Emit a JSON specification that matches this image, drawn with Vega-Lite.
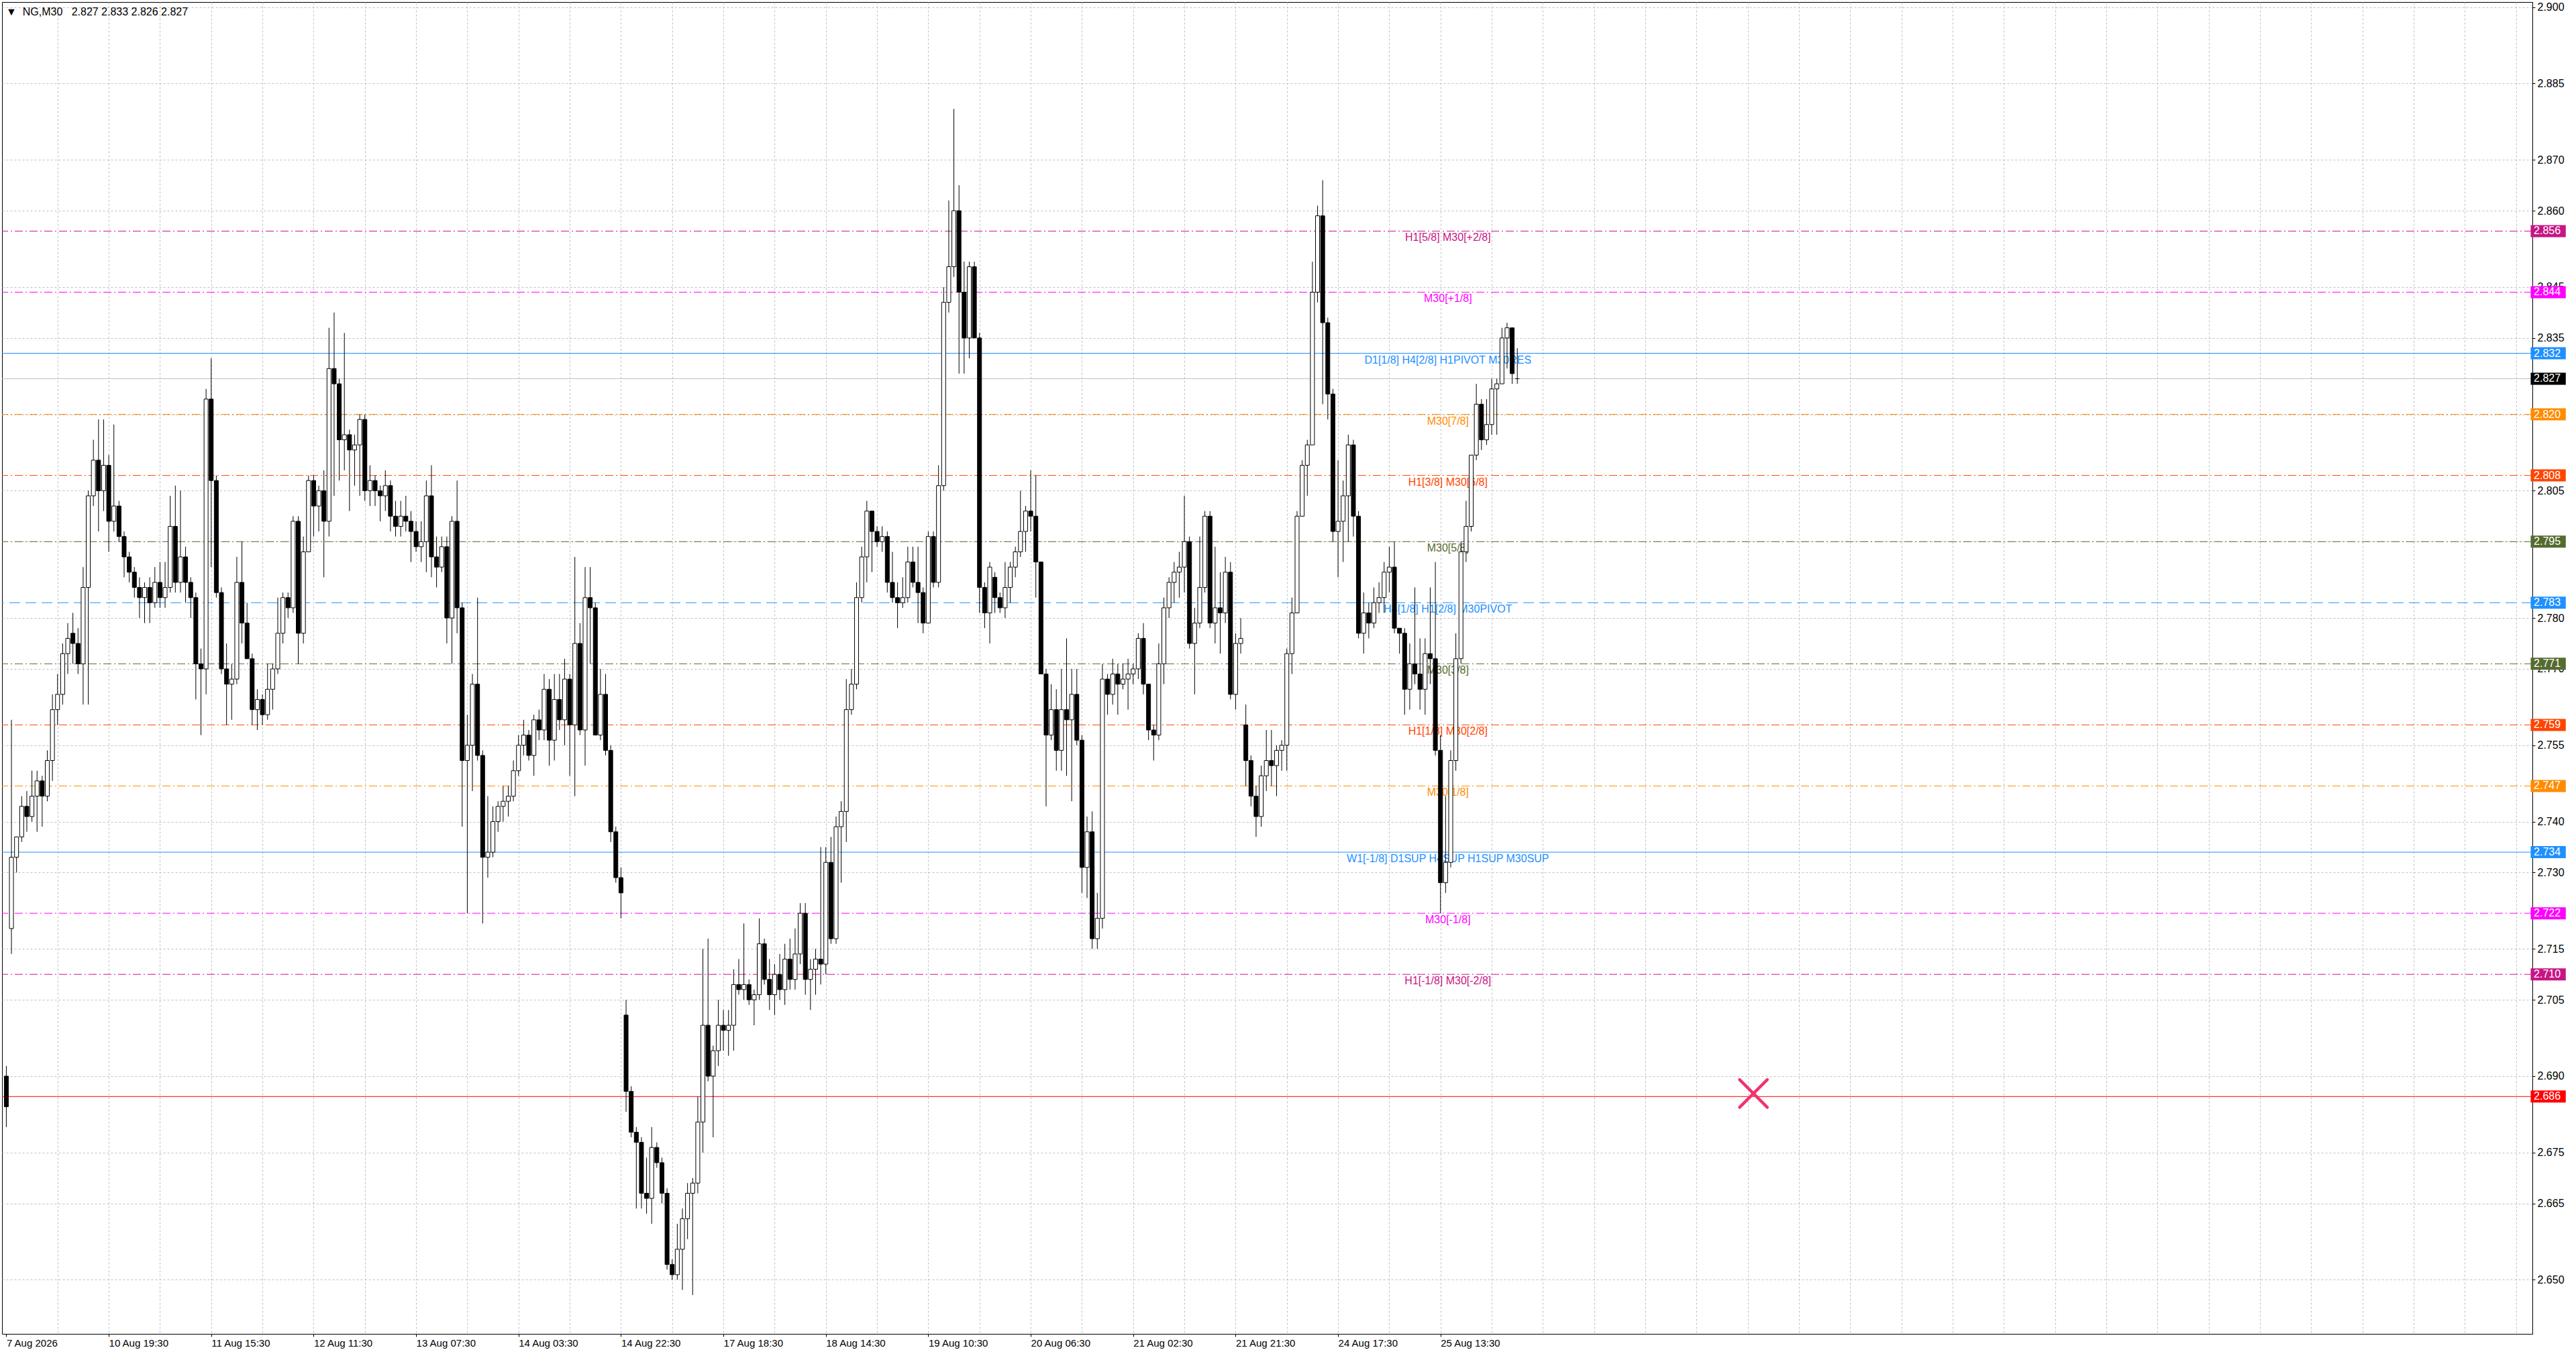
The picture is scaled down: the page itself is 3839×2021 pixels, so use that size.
{
  "$schema": "https://vega.github.io/schema/vega-lite/v6.json",
  "width": 3771,
  "height": 1985,
  "autosize": {"type": "none"},
  "padding": {"left": 3, "top": 3, "right": 65, "bottom": 33},
  "background": "white",
  "config": {"view": {"stroke": "black", "strokeWidth": 1}, "font": "Liberation Sans"},
  "title": {
    "text": "▼\u00a0 NG,M30\u00a0\u00a0 2.827 2.833 2.826 2.827",
    "anchor": "start", "frame": "group", "orient": "top", "offset": -20,
    "baseline": "alphabetic", "dx": 6, "dy": 16, "fontSize": 16, "fontWeight": "normal",
    "font": "Liberation Sans", "color": "black"
  },
  "datasets": {
    "bars": [
      {"n":0,"o":2.690,"h":2.692,"l":2.680,"c":2.684},
      {"n":2,"o":2.719,"h":2.760,"l":2.714,"c":2.733},
      {"n":4,"o":2.733,"h":2.737,"l":2.730,"c":2.737},
      {"n":6,"o":2.737,"h":2.745,"l":2.736,"c":2.743},
      {"n":8,"o":2.743,"h":2.746,"l":2.738,"c":2.741},
      {"n":10,"o":2.741,"h":2.750,"l":2.740,"c":2.745},
      {"n":12,"o":2.745,"h":2.750,"l":2.738,"c":2.748},
      {"n":14,"o":2.748,"h":2.749,"l":2.739,"c":2.745},
      {"n":16,"o":2.745,"h":2.754,"l":2.744,"c":2.752},
      {"n":18,"o":2.752,"h":2.765,"l":2.748,"c":2.762},
      {"n":20,"o":2.762,"h":2.769,"l":2.759,"c":2.765},
      {"n":22,"o":2.765,"h":2.775,"l":2.763,"c":2.773},
      {"n":24,"o":2.773,"h":2.779,"l":2.769,"c":2.776},
      {"n":26,"o":2.777,"h":2.781,"l":2.771,"c":2.775},
      {"n":28,"o":2.775,"h":2.778,"l":2.769,"c":2.771},
      {"n":30,"o":2.771,"h":2.790,"l":2.763,"c":2.786},
      {"n":32,"o":2.786,"h":2.805,"l":2.763,"c":2.804},
      {"n":34,"o":2.804,"h":2.815,"l":2.802,"c":2.811},
      {"n":36,"o":2.811,"h":2.819,"l":2.797,"c":2.805},
      {"n":38,"o":2.805,"h":2.819,"l":2.801,"c":2.810},
      {"n":40,"o":2.810,"h":2.812,"l":2.793,"c":2.799},
      {"n":42,"o":2.799,"h":2.818,"l":2.797,"c":2.802},
      {"n":44,"o":2.802,"h":2.803,"l":2.795,"c":2.796},
      {"n":46,"o":2.796,"h":2.797,"l":2.788,"c":2.792},
      {"n":48,"o":2.792,"h":2.793,"l":2.787,"c":2.789},
      {"n":50,"o":2.789,"h":2.790,"l":2.784,"c":2.786},
      {"n":52,"o":2.786,"h":2.788,"l":2.780,"c":2.784},
      {"n":54,"o":2.784,"h":2.787,"l":2.779,"c":2.786},
      {"n":56,"o":2.786,"h":2.788,"l":2.779,"c":2.783},
      {"n":58,"o":2.783,"h":2.790,"l":2.782,"c":2.787},
      {"n":60,"o":2.787,"h":2.791,"l":2.782,"c":2.784},
      {"n":62,"o":2.784,"h":2.791,"l":2.782,"c":2.786},
      {"n":64,"o":2.786,"h":2.804,"l":2.785,"c":2.798},
      {"n":66,"o":2.798,"h":2.806,"l":2.785,"c":2.787},
      {"n":68,"o":2.787,"h":2.805,"l":2.785,"c":2.792},
      {"n":70,"o":2.792,"h":2.794,"l":2.783,"c":2.787},
      {"n":72,"o":2.787,"h":2.788,"l":2.780,"c":2.784},
      {"n":74,"o":2.784,"h":2.785,"l":2.764,"c":2.771},
      {"n":76,"o":2.771,"h":2.774,"l":2.757,"c":2.770},
      {"n":78,"o":2.770,"h":2.825,"l":2.765,"c":2.823},
      {"n":80,"o":2.823,"h":2.831,"l":2.790,"c":2.807},
      {"n":82,"o":2.807,"h":2.808,"l":2.784,"c":2.785},
      {"n":84,"o":2.785,"h":2.786,"l":2.769,"c":2.770},
      {"n":86,"o":2.770,"h":2.775,"l":2.759,"c":2.767},
      {"n":88,"o":2.767,"h":2.771,"l":2.760,"c":2.768},
      {"n":90,"o":2.768,"h":2.792,"l":2.767,"c":2.787},
      {"n":92,"o":2.787,"h":2.795,"l":2.775,"c":2.779},
      {"n":94,"o":2.779,"h":2.783,"l":2.772,"c":2.772},
      {"n":96,"o":2.772,"h":2.773,"l":2.759,"c":2.762},
      {"n":98,"o":2.762,"h":2.766,"l":2.758,"c":2.764},
      {"n":100,"o":2.764,"h":2.765,"l":2.759,"c":2.761},
      {"n":102,"o":2.761,"h":2.771,"l":2.760,"c":2.766},
      {"n":104,"o":2.766,"h":2.771,"l":2.762,"c":2.770},
      {"n":106,"o":2.770,"h":2.784,"l":2.769,"c":2.777},
      {"n":108,"o":2.777,"h":2.785,"l":2.775,"c":2.784},
      {"n":110,"o":2.784,"h":2.785,"l":2.780,"c":2.782},
      {"n":112,"o":2.782,"h":2.800,"l":2.781,"c":2.799},
      {"n":114,"o":2.799,"h":2.800,"l":2.771,"c":2.777},
      {"n":116,"o":2.777,"h":2.796,"l":2.775,"c":2.793},
      {"n":118,"o":2.793,"h":2.808,"l":2.793,"c":2.807},
      {"n":120,"o":2.807,"h":2.808,"l":2.796,"c":2.802},
      {"n":122,"o":2.802,"h":2.806,"l":2.797,"c":2.805},
      {"n":124,"o":2.805,"h":2.809,"l":2.788,"c":2.799},
      {"n":126,"o":2.799,"h":2.837,"l":2.796,"c":2.829},
      {"n":128,"o":2.829,"h":2.840,"l":2.804,"c":2.826},
      {"n":130,"o":2.826,"h":2.827,"l":2.807,"c":2.815},
      {"n":132,"o":2.815,"h":2.836,"l":2.809,"c":2.816},
      {"n":134,"o":2.816,"h":2.817,"l":2.801,"c":2.813},
      {"n":136,"o":2.813,"h":2.816,"l":2.806,"c":2.814},
      {"n":138,"o":2.814,"h":2.820,"l":2.804,"c":2.819},
      {"n":140,"o":2.819,"h":2.820,"l":2.803,"c":2.805},
      {"n":142,"o":2.805,"h":2.810,"l":2.802,"c":2.807},
      {"n":144,"o":2.807,"h":2.808,"l":2.802,"c":2.805},
      {"n":146,"o":2.805,"h":2.806,"l":2.799,"c":2.804},
      {"n":148,"o":2.804,"h":2.809,"l":2.801,"c":2.806},
      {"n":150,"o":2.806,"h":2.807,"l":2.797,"c":2.800},
      {"n":152,"o":2.800,"h":2.803,"l":2.796,"c":2.798},
      {"n":154,"o":2.798,"h":2.803,"l":2.796,"c":2.800},
      {"n":156,"o":2.800,"h":2.804,"l":2.797,"c":2.799},
      {"n":158,"o":2.799,"h":2.801,"l":2.791,"c":2.797},
      {"n":160,"o":2.797,"h":2.799,"l":2.793,"c":2.794},
      {"n":162,"o":2.794,"h":2.799,"l":2.791,"c":2.795},
      {"n":164,"o":2.795,"h":2.807,"l":2.789,"c":2.804},
      {"n":166,"o":2.804,"h":2.810,"l":2.788,"c":2.792},
      {"n":168,"o":2.792,"h":2.796,"l":2.786,"c":2.790},
      {"n":170,"o":2.790,"h":2.796,"l":2.789,"c":2.794},
      {"n":172,"o":2.794,"h":2.796,"l":2.775,"c":2.780},
      {"n":174,"o":2.780,"h":2.800,"l":2.771,"c":2.799},
      {"n":176,"o":2.799,"h":2.807,"l":2.777,"c":2.782},
      {"n":178,"o":2.782,"h":2.783,"l":2.739,"c":2.752},
      {"n":180,"o":2.752,"h":2.761,"l":2.722,"c":2.755},
      {"n":182,"o":2.755,"h":2.769,"l":2.746,"c":2.767},
      {"n":184,"o":2.767,"h":2.784,"l":2.752,"c":2.753},
      {"n":186,"o":2.753,"h":2.754,"l":2.720,"c":2.733},
      {"n":188,"o":2.733,"h":2.745,"l":2.729,"c":2.734},
      {"n":190,"o":2.734,"h":2.743,"l":2.733,"c":2.740},
      {"n":192,"o":2.740,"h":2.744,"l":2.738,"c":2.743},
      {"n":194,"o":2.743,"h":2.747,"l":2.740,"c":2.744},
      {"n":196,"o":2.744,"h":2.747,"l":2.741,"c":2.745},
      {"n":198,"o":2.745,"h":2.752,"l":2.744,"c":2.750},
      {"n":200,"o":2.750,"h":2.757,"l":2.749,"c":2.755},
      {"n":202,"o":2.755,"h":2.760,"l":2.753,"c":2.757},
      {"n":204,"o":2.757,"h":2.758,"l":2.752,"c":2.753},
      {"n":206,"o":2.753,"h":2.761,"l":2.749,"c":2.760},
      {"n":208,"o":2.760,"h":2.762,"l":2.756,"c":2.758},
      {"n":210,"o":2.758,"h":2.769,"l":2.756,"c":2.766},
      {"n":212,"o":2.766,"h":2.768,"l":2.751,"c":2.756},
      {"n":214,"o":2.756,"h":2.769,"l":2.752,"c":2.764},
      {"n":216,"o":2.764,"h":2.769,"l":2.758,"c":2.760},
      {"n":218,"o":2.760,"h":2.772,"l":2.755,"c":2.768},
      {"n":220,"o":2.768,"h":2.769,"l":2.749,"c":2.759},
      {"n":222,"o":2.759,"h":2.792,"l":2.745,"c":2.775},
      {"n":224,"o":2.775,"h":2.779,"l":2.757,"c":2.758},
      {"n":226,"o":2.758,"h":2.790,"l":2.751,"c":2.784},
      {"n":228,"o":2.784,"h":2.790,"l":2.771,"c":2.782},
      {"n":230,"o":2.782,"h":2.783,"l":2.757,"c":2.757},
      {"n":232,"o":2.757,"h":2.770,"l":2.756,"c":2.765},
      {"n":234,"o":2.765,"h":2.769,"l":2.753,"c":2.754},
      {"n":236,"o":2.754,"h":2.755,"l":2.736,"c":2.738},
      {"n":238,"o":2.738,"h":2.739,"l":2.728,"c":2.729},
      {"n":240,"o":2.729,"h":2.731,"l":2.721,"c":2.726},
      {"n":242,"o":2.702,"h":2.705,"l":2.683,"c":2.687},
      {"n":244,"o":2.687,"h":2.688,"l":2.678,"c":2.679},
      {"n":246,"o":2.679,"h":2.680,"l":2.664,"c":2.677},
      {"n":248,"o":2.677,"h":2.678,"l":2.664,"c":2.667},
      {"n":250,"o":2.667,"h":2.674,"l":2.663,"c":2.666},
      {"n":252,"o":2.666,"h":2.680,"l":2.661,"c":2.676},
      {"n":254,"o":2.676,"h":2.677,"l":2.672,"c":2.673},
      {"n":256,"o":2.673,"h":2.674,"l":2.665,"c":2.667},
      {"n":258,"o":2.667,"h":2.668,"l":2.652,"c":2.653},
      {"n":260,"o":2.653,"h":2.654,"l":2.650,"c":2.651},
      {"n":262,"o":2.651,"h":2.661,"l":2.650,"c":2.656},
      {"n":264,"o":2.656,"h":2.664,"l":2.648,"c":2.662},
      {"n":266,"o":2.662,"h":2.669,"l":2.658,"c":2.667},
      {"n":268,"o":2.667,"h":2.670,"l":2.647,"c":2.669},
      {"n":270,"o":2.669,"h":2.686,"l":2.667,"c":2.681},
      {"n":272,"o":2.681,"h":2.715,"l":2.675,"c":2.700},
      {"n":274,"o":2.700,"h":2.717,"l":2.689,"c":2.690},
      {"n":276,"o":2.690,"h":2.696,"l":2.678,"c":2.695},
      {"n":278,"o":2.695,"h":2.705,"l":2.692,"c":2.700},
      {"n":280,"o":2.700,"h":2.703,"l":2.695,"c":2.699},
      {"n":282,"o":2.699,"h":2.703,"l":2.694,"c":2.700},
      {"n":284,"o":2.700,"h":2.711,"l":2.695,"c":2.708},
      {"n":286,"o":2.708,"h":2.713,"l":2.706,"c":2.707},
      {"n":288,"o":2.707,"h":2.720,"l":2.705,"c":2.708},
      {"n":290,"o":2.708,"h":2.709,"l":2.704,"c":2.705},
      {"n":292,"o":2.705,"h":2.707,"l":2.700,"c":2.706},
      {"n":294,"o":2.706,"h":2.721,"l":2.705,"c":2.716},
      {"n":296,"o":2.716,"h":2.717,"l":2.708,"c":2.709},
      {"n":298,"o":2.709,"h":2.713,"l":2.703,"c":2.706},
      {"n":300,"o":2.706,"h":2.712,"l":2.702,"c":2.710},
      {"n":302,"o":2.710,"h":2.714,"l":2.705,"c":2.707},
      {"n":304,"o":2.707,"h":2.716,"l":2.704,"c":2.713},
      {"n":306,"o":2.713,"h":2.717,"l":2.707,"c":2.709},
      {"n":308,"o":2.709,"h":2.719,"l":2.707,"c":2.714},
      {"n":310,"o":2.714,"h":2.724,"l":2.712,"c":2.722},
      {"n":312,"o":2.722,"h":2.724,"l":2.706,"c":2.709},
      {"n":314,"o":2.709,"h":2.713,"l":2.703,"c":2.711},
      {"n":316,"o":2.711,"h":2.715,"l":2.706,"c":2.713},
      {"n":318,"o":2.713,"h":2.735,"l":2.708,"c":2.712},
      {"n":320,"o":2.712,"h":2.735,"l":2.710,"c":2.732},
      {"n":322,"o":2.732,"h":2.737,"l":2.716,"c":2.717},
      {"n":324,"o":2.717,"h":2.741,"l":2.716,"c":2.739},
      {"n":326,"o":2.739,"h":2.744,"l":2.728,"c":2.742},
      {"n":328,"o":2.742,"h":2.768,"l":2.736,"c":2.762},
      {"n":330,"o":2.762,"h":2.770,"l":2.761,"c":2.767},
      {"n":332,"o":2.767,"h":2.787,"l":2.766,"c":2.784},
      {"n":334,"o":2.784,"h":2.794,"l":2.783,"c":2.792},
      {"n":336,"o":2.792,"h":2.803,"l":2.787,"c":2.801},
      {"n":338,"o":2.801,"h":2.801,"l":2.789,"c":2.797},
      {"n":340,"o":2.797,"h":2.798,"l":2.794,"c":2.795},
      {"n":342,"o":2.795,"h":2.798,"l":2.793,"c":2.796},
      {"n":344,"o":2.796,"h":2.797,"l":2.785,"c":2.787},
      {"n":346,"o":2.787,"h":2.793,"l":2.783,"c":2.784},
      {"n":348,"o":2.784,"h":2.787,"l":2.778,"c":2.783},
      {"n":350,"o":2.783,"h":2.788,"l":2.782,"c":2.784},
      {"n":352,"o":2.784,"h":2.794,"l":2.783,"c":2.791},
      {"n":354,"o":2.791,"h":2.794,"l":2.786,"c":2.787},
      {"n":356,"o":2.787,"h":2.794,"l":2.779,"c":2.785},
      {"n":358,"o":2.785,"h":2.786,"l":2.777,"c":2.779},
      {"n":360,"o":2.779,"h":2.797,"l":2.779,"c":2.796},
      {"n":362,"o":2.796,"h":2.797,"l":2.786,"c":2.787},
      {"n":364,"o":2.787,"h":2.810,"l":2.786,"c":2.806},
      {"n":366,"o":2.806,"h":2.845,"l":2.805,"c":2.842},
      {"n":368,"o":2.842,"h":2.862,"l":2.840,"c":2.849},
      {"n":370,"o":2.849,"h":2.880,"l":2.847,"c":2.860},
      {"n":372,"o":2.860,"h":2.865,"l":2.828,"c":2.844},
      {"n":374,"o":2.844,"h":2.850,"l":2.828,"c":2.835},
      {"n":376,"o":2.835,"h":2.850,"l":2.831,"c":2.849},
      {"n":378,"o":2.849,"h":2.850,"l":2.835,"c":2.835},
      {"n":380,"o":2.835,"h":2.836,"l":2.781,"c":2.786},
      {"n":382,"o":2.786,"h":2.787,"l":2.778,"c":2.781},
      {"n":384,"o":2.781,"h":2.791,"l":2.775,"c":2.790},
      {"n":386,"o":2.788,"h":2.789,"l":2.781,"c":2.784},
      {"n":388,"o":2.784,"h":2.785,"l":2.781,"c":2.782},
      {"n":390,"o":2.782,"h":2.791,"l":2.780,"c":2.786},
      {"n":392,"o":2.786,"h":2.791,"l":2.783,"c":2.790},
      {"n":394,"o":2.790,"h":2.794,"l":2.788,"c":2.793},
      {"n":396,"o":2.793,"h":2.805,"l":2.792,"c":2.797},
      {"n":398,"o":2.797,"h":2.802,"l":2.793,"c":2.801},
      {"n":400,"o":2.801,"h":2.809,"l":2.797,"c":2.800},
      {"n":402,"o":2.800,"h":2.808,"l":2.784,"c":2.791},
      {"n":404,"o":2.791,"h":2.791,"l":2.769,"c":2.769},
      {"n":406,"o":2.769,"h":2.770,"l":2.743,"c":2.757},
      {"n":408,"o":2.757,"h":2.767,"l":2.756,"c":2.762},
      {"n":410,"o":2.762,"h":2.766,"l":2.750,"c":2.754},
      {"n":412,"o":2.754,"h":2.770,"l":2.750,"c":2.762},
      {"n":414,"o":2.762,"h":2.776,"l":2.749,"c":2.760},
      {"n":416,"o":2.760,"h":2.770,"l":2.744,"c":2.765},
      {"n":418,"o":2.765,"h":2.770,"l":2.755,"c":2.756},
      {"n":420,"o":2.756,"h":2.757,"l":2.726,"c":2.731},
      {"n":422,"o":2.731,"h":2.741,"l":2.725,"c":2.738},
      {"n":424,"o":2.738,"h":2.742,"l":2.715,"c":2.717},
      {"n":426,"o":2.717,"h":2.726,"l":2.715,"c":2.721},
      {"n":428,"o":2.721,"h":2.771,"l":2.719,"c":2.768},
      {"n":430,"o":2.768,"h":2.769,"l":2.761,"c":2.765},
      {"n":432,"o":2.765,"h":2.772,"l":2.763,"c":2.769},
      {"n":434,"o":2.769,"h":2.771,"l":2.761,"c":2.767},
      {"n":436,"o":2.767,"h":2.771,"l":2.766,"c":2.768},
      {"n":438,"o":2.768,"h":2.772,"l":2.762,"c":2.769},
      {"n":440,"o":2.769,"h":2.771,"l":2.767,"c":2.770},
      {"n":442,"o":2.770,"h":2.777,"l":2.768,"c":2.776},
      {"n":444,"o":2.776,"h":2.779,"l":2.765,"c":2.767},
      {"n":446,"o":2.767,"h":2.767,"l":2.756,"c":2.758},
      {"n":448,"o":2.758,"h":2.759,"l":2.752,"c":2.757},
      {"n":450,"o":2.757,"h":2.775,"l":2.756,"c":2.771},
      {"n":452,"o":2.771,"h":2.784,"l":2.767,"c":2.782},
      {"n":454,"o":2.782,"h":2.788,"l":2.780,"c":2.787},
      {"n":456,"o":2.787,"h":2.791,"l":2.783,"c":2.789},
      {"n":458,"o":2.789,"h":2.793,"l":2.784,"c":2.790},
      {"n":460,"o":2.790,"h":2.804,"l":2.785,"c":2.795},
      {"n":462,"o":2.795,"h":2.796,"l":2.774,"c":2.775},
      {"n":464,"o":2.775,"h":2.782,"l":2.765,"c":2.779},
      {"n":466,"o":2.779,"h":2.796,"l":2.778,"c":2.786},
      {"n":468,"o":2.786,"h":2.801,"l":2.785,"c":2.800},
      {"n":470,"o":2.800,"h":2.801,"l":2.778,"c":2.779},
      {"n":472,"o":2.779,"h":2.794,"l":2.775,"c":2.782},
      {"n":474,"o":2.782,"h":2.789,"l":2.773,"c":2.781},
      {"n":476,"o":2.781,"h":2.792,"l":2.779,"c":2.789},
      {"n":478,"o":2.789,"h":2.791,"l":2.764,"c":2.765},
      {"n":480,"o":2.765,"h":2.777,"l":2.762,"c":2.775},
      {"n":482,"o":2.775,"h":2.780,"l":2.773,"c":2.776},
      {"n":484,"o":2.759,"h":2.763,"l":2.747,"c":2.752},
      {"n":486,"o":2.752,"h":2.753,"l":2.743,"c":2.745},
      {"n":488,"o":2.745,"h":2.747,"l":2.737,"c":2.741},
      {"n":490,"o":2.741,"h":2.751,"l":2.739,"c":2.749},
      {"n":492,"o":2.749,"h":2.758,"l":2.746,"c":2.752},
      {"n":494,"o":2.752,"h":2.758,"l":2.747,"c":2.751},
      {"n":496,"o":2.751,"h":2.755,"l":2.745,"c":2.754},
      {"n":498,"o":2.754,"h":2.756,"l":2.750,"c":2.755},
      {"n":500,"o":2.755,"h":2.774,"l":2.750,"c":2.773},
      {"n":502,"o":2.773,"h":2.784,"l":2.769,"c":2.781},
      {"n":504,"o":2.781,"h":2.801,"l":2.781,"c":2.800},
      {"n":506,"o":2.800,"h":2.811,"l":2.800,"c":2.810},
      {"n":508,"o":2.810,"h":2.815,"l":2.804,"c":2.814},
      {"n":510,"o":2.814,"h":2.850,"l":2.814,"c":2.844},
      {"n":512,"o":2.844,"h":2.861,"l":2.842,"c":2.859},
      {"n":514,"o":2.859,"h":2.866,"l":2.822,"c":2.838},
      {"n":516,"o":2.838,"h":2.839,"l":2.819,"c":2.824},
      {"n":518,"o":2.824,"h":2.825,"l":2.795,"c":2.797},
      {"n":520,"o":2.797,"h":2.811,"l":2.788,"c":2.799},
      {"n":522,"o":2.799,"h":2.807,"l":2.791,"c":2.804},
      {"n":524,"o":2.804,"h":2.816,"l":2.795,"c":2.814},
      {"n":526,"o":2.814,"h":2.815,"l":2.796,"c":2.800},
      {"n":528,"o":2.800,"h":2.801,"l":2.776,"c":2.777},
      {"n":530,"o":2.777,"h":2.785,"l":2.773,"c":2.781},
      {"n":532,"o":2.781,"h":2.783,"l":2.776,"c":2.779},
      {"n":534,"o":2.779,"h":2.786,"l":2.778,"c":2.783},
      {"n":536,"o":2.783,"h":2.787,"l":2.781,"c":2.784},
      {"n":538,"o":2.784,"h":2.791,"l":2.781,"c":2.789},
      {"n":540,"o":2.789,"h":2.794,"l":2.785,"c":2.790},
      {"n":542,"o":2.790,"h":2.795,"l":2.777,"c":2.778},
      {"n":544,"o":2.778,"h":2.778,"l":2.773,"c":2.777},
      {"n":546,"o":2.777,"h":2.778,"l":2.761,"c":2.766},
      {"n":548,"o":2.766,"h":2.775,"l":2.762,"c":2.771},
      {"n":550,"o":2.771,"h":2.786,"l":2.767,"c":2.769},
      {"n":552,"o":2.769,"h":2.776,"l":2.762,"c":2.766},
      {"n":554,"o":2.766,"h":2.776,"l":2.761,"c":2.773},
      {"n":556,"o":2.773,"h":2.786,"l":2.767,"c":2.772},
      {"n":558,"o":2.772,"h":2.791,"l":2.753,"c":2.754},
      {"n":560,"o":2.754,"h":2.757,"l":2.722,"c":2.728},
      {"n":562,"o":2.728,"h":2.745,"l":2.726,"c":2.732},
      {"n":564,"o":2.732,"h":2.754,"l":2.731,"c":2.752},
      {"n":566,"o":2.752,"h":2.777,"l":2.750,"c":2.772},
      {"n":568,"o":2.772,"h":2.795,"l":2.771,"c":2.793},
      {"n":570,"o":2.793,"h":2.803,"l":2.791,"c":2.798},
      {"n":572,"o":2.798,"h":2.812,"l":2.797,"c":2.812},
      {"n":574,"o":2.812,"h":2.826,"l":2.811,"c":2.822},
      {"n":576,"o":2.822,"h":2.823,"l":2.813,"c":2.815},
      {"n":578,"o":2.815,"h":2.823,"l":2.814,"c":2.818},
      {"n":580,"o":2.818,"h":2.827,"l":2.816,"c":2.825},
      {"n":582,"o":2.825,"h":2.827,"l":2.816,"c":2.826},
      {"n":584,"o":2.826,"h":2.837,"l":2.826,"c":2.835},
      {"n":586,"o":2.835,"h":2.838,"l":2.829,"c":2.837},
      {"n":588,"o":2.837,"h":2.837,"l":2.826,"c":2.828},
      {"n":590,"o":2.827,"h":2.833,"l":2.826,"c":2.827}
    ],
    "levels": [
      {"price":2.856,"label":"H1[5/8] M30[+2/8]","kind":"octave"},
      {"price":2.844,"label":"M30[+1/8]","kind":"octave"},
      {"price":2.832,"label":"D1[1/8] H4[2/8] H1PIVOT M30RES","kind":"band"},
      {"price":2.827,"label":"Bid","kind":"bid"},
      {"price":2.820,"label":"M30[7/8]","kind":"octave"},
      {"price":2.808,"label":"H1[3/8] M30[6/8]","kind":"octave"},
      {"price":2.795,"label":"M30[5/8]","kind":"octave"},
      {"price":2.783,"label":"H4[1/8] H1[2/8] M30PIVOT","kind":"pivot"},
      {"price":2.771,"label":"M30[3/8]","kind":"octave"},
      {"price":2.759,"label":"H1[1/8] M30[2/8]","kind":"octave"},
      {"price":2.747,"label":"M30[1/8]","kind":"octave"},
      {"price":2.734,"label":"W1[-1/8] D1SUP H4SUP H1SUP M30SUP","kind":"band"},
      {"price":2.722,"label":"M30[-1/8]","kind":"octave"},
      {"price":2.710,"label":"H1[-1/8] M30[-2/8]","kind":"octave"},
      {"price":2.686,"label":"Alert","kind":"alert"}
    ],
    "signals": [
      {"n":682.2,"price":2.6866}
    ]
  },
  "resolve": {"axis": {"x": "independent"}},
  "layer": [
    {
      "data": {"name": "levels"},
      "mark": {"type": "rule", "strokeWidth": 1},
      "encoding": {
        "y": {"field": "price", "type": "quantitative", "scale": {"domain": [2.64004, 2.90034], "nice": false, "zero": false},
          "axis": {"orient": "right", "values": [2.9,2.885,2.87,2.86,2.845,2.835,2.82,2.805,2.795,2.78,2.77,2.755,2.74,2.73,2.715,2.705,2.69,2.675,2.665,2.65],
            "format": ".3f", "title": null, "grid": true, "gridColor": "#C0C0C0", "gridDash": [3,3], "gridWidth": 1,
            "tickColor": "black", "tickSize": 4, "domainColor": "black", "labelColor": "black", "labelFontSize": 16,
            "labelFont": "Liberation Sans", "labelPadding": 3, "labelBound": false}
        },
        "color": {"field": "label", "type": "nominal", "legend": null,
          "scale": {
            "domain": ["H1[5/8] M30[+2/8]","M30[+1/8]","D1[1/8] H4[2/8] H1PIVOT M30RES","Bid","M30[7/8]","H1[3/8] M30[6/8]","M30[5/8]","H4[1/8] H1[2/8] M30PIVOT","M30[3/8]","H1[1/8] M30[2/8]","M30[1/8]","W1[-1/8] D1SUP H4SUP H1SUP M30SUP","M30[-1/8]","H1[-1/8] M30[-2/8]","Alert"],
            "range": ["#C71585","#FF00FF","#1E90FF","#C0C0C0","#FF8C00","#FF4500","#556B2F","#1E90FF","#556B2F","#FF4500","#FF8C00","#1E90FF","#FF00FF","#C71585","#FF0000"]
          }
        },
        "strokeDash": {"field": "kind", "type": "nominal", "legend": null,
          "scale": {"domain": ["octave","pivot","band","bid","alert"], "range": [[12,4,2,4],[16,8],[1,0],[1,0],[1,0]]}
        }
      }
    },
    {
      "data": {"name": "levels"},
      "transform": [{"filter": "datum.kind !== 'bid' && datum.kind !== 'alert'"}],
      "mark": {"type": "text", "align": "center", "baseline": "top", "dy": 2, "fontSize": 16, "font": "Liberation Sans"},
      "encoding": {
        "x": {"datum": 562.9, "type": "quantitative", "scale": {"domain": [-0.37, 985.05], "nice": false, "zero": false}, "axis": null},
        "y": {"field": "price", "type": "quantitative", "scale": {"domain": [2.64004, 2.90034], "nice": false, "zero": false}},
        "text": {"field": "label"},
        "color": {"field": "label", "type": "nominal", "legend": null}
      }
    },
    {
      "data": {"name": "bars"},
      "mark": {"type": "rule", "color": "black", "strokeWidth": 1},
      "encoding": {
        "x": {"field": "n", "type": "quantitative", "scale": {"domain": [-0.37, 985.05], "nice": false, "zero": false},
          "axis": {"orient": "bottom", "values": [20,40,60,80,100,120,140,160,180,200,220,240,260,280,300,320,340,360,380,400,420,440,460,480,500,520,540,560,580,600,620,640,660,680,700,720,740,760,780,800,820,840,860,880,900,920,940,960,980],
            "grid": true, "gridColor": "#C0C0C0", "gridDash": [3,3], "gridWidth": 1, "labels": false, "ticks": false, "domain": false, "title": null}
        },
        "y": {"field": "l", "type": "quantitative", "scale": {"domain": [2.64004, 2.90034], "nice": false, "zero": false}},
        "y2": {"field": "h"}
      }
    },
    {
      "data": {"name": "bars"},
      "mark": {"type": "bar", "width": 6, "stroke": "black", "strokeWidth": 1},
      "encoding": {
        "x": {"field": "n", "type": "quantitative", "scale": {"domain": [-0.37, 985.05], "nice": false, "zero": false},
          "axis": {"orient": "bottom", "values": [0,40,80,120,160,200,240,280,320,360,400,440,480,520,560],
            "labelExpr": "['7 Aug 2026','10 Aug 19:30','11 Aug 15:30','12 Aug 11:30','13 Aug 07:30','14 Aug 03:30','14 Aug 22:30','17 Aug 18:30','18 Aug 14:30','19 Aug 10:30','20 Aug 06:30','21 Aug 02:30','21 Aug 21:30','24 Aug 17:30','25 Aug 13:30'][round(datum.value/40)]",
            "grid": false, "title": null, "labelAlign": "left", "labelFontSize": 15, "labelFont": "Liberation Sans",
            "labelPadding": 2, "tickSize": 4, "tickColor": "black", "domainColor": "black", "labelColor": "black",
            "labelOverlap": false, "labelFlush": false}
        },
        "y": {"field": "o", "type": "quantitative", "scale": {"domain": [2.64004, 2.90034], "nice": false, "zero": false}},
        "y2": {"field": "c"},
        "fill": {"condition": {"test": "datum.c >= datum.o", "value": "white"}, "value": "black"}
      }
    },
    {
      "data": {"name": "levels"},
      "mark": {"type": "bar", "orient": "horizontal", "height": 18, "clip": false},
      "encoding": {
        "x": {"datum": 985.7, "type": "quantitative", "scale": {"domain": [-0.37, 985.05], "nice": false, "zero": false}, "axis": null},
        "x2": {"datum": 999.4},
        "y": {"field": "price", "type": "quantitative", "scale": {"domain": [2.64004, 2.90034], "nice": false, "zero": false}},
        "fill": {"condition": {"test": "datum.kind === 'bid'", "value": "black"},
          "field": "label", "type": "nominal", "legend": null,
          "scale": {
            "domain": ["H1[5/8] M30[+2/8]","M30[+1/8]","D1[1/8] H4[2/8] H1PIVOT M30RES","Bid","M30[7/8]","H1[3/8] M30[6/8]","M30[5/8]","H4[1/8] H1[2/8] M30PIVOT","M30[3/8]","H1[1/8] M30[2/8]","M30[1/8]","W1[-1/8] D1SUP H4SUP H1SUP M30SUP","M30[-1/8]","H1[-1/8] M30[-2/8]","Alert"],
            "range": ["#C71585","#FF00FF","#1E90FF","#000000","#FF8C00","#FF4500","#556B2F","#1E90FF","#556B2F","#FF4500","#FF8C00","#1E90FF","#FF00FF","#C71585","#FF0000"]
          }
        }
      }
    },
    {
      "data": {"name": "levels"},
      "mark": {"type": "text", "align": "left", "baseline": "middle", "fontSize": 16, "font": "Liberation Sans", "color": "white", "clip": false},
      "encoding": {
        "x": {"datum": 986.9, "type": "quantitative", "scale": {"domain": [-0.37, 985.05], "nice": false, "zero": false}, "axis": null},
        "y": {"field": "price", "type": "quantitative", "scale": {"domain": [2.64004, 2.90034], "nice": false, "zero": false}},
        "text": {"field": "price", "type": "quantitative", "format": ".3f"}
      }
    },
    {
      "data": {"name": "signals"},
      "mark": {"type": "point", "shape": "M-1,-1L1,1M1,-1L-1,1", "size": 1700, "filled": false, "stroke": "#F2336B", "strokeWidth": 4.5, "strokeCap": "round", "opacity": 1},
      "encoding": {
        "x": {"field": "n", "type": "quantitative", "scale": {"domain": [-0.37, 985.05], "nice": false, "zero": false}, "axis": null},
        "y": {"field": "price", "type": "quantitative", "scale": {"domain": [2.64004, 2.90034], "nice": false, "zero": false}}
      }
    }
  ]
}
